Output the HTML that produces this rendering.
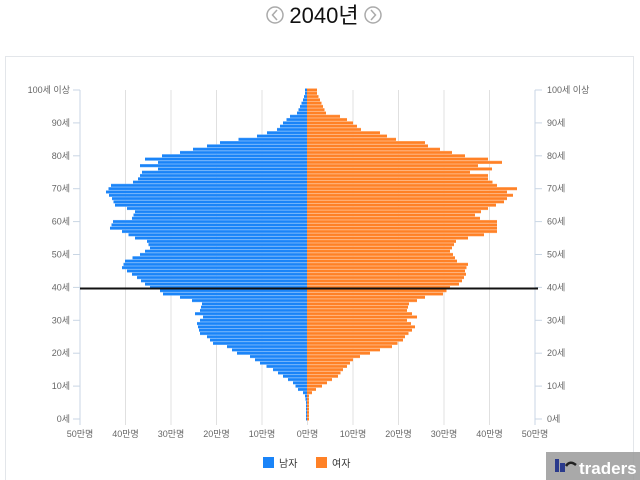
<!DOCTYPE html>
<html><head><meta charset="utf-8"><style>
html,body{margin:0;padding:0;background:#fff;width:640px;height:480px;overflow:hidden}
body{font-family:"Liberation Sans","Noto Sans CJK KR",sans-serif}
</style></head><body>
<svg id="s" width="640" height="480" xmlns="http://www.w3.org/2000/svg" font-family="'Liberation Sans','Noto Sans CJK KR',sans-serif">
<rect x="5.5" y="56.5" width="628" height="430" fill="none" stroke="#e3e6ea"/>
<circle cx="275" cy="15" r="8" fill="none" stroke="#aaa" stroke-width="1.5"/>
<path d="M277 10 L272.5 15 L277 20" fill="none" stroke="#aaa" stroke-width="1.5"/>
<circle cx="373" cy="15" r="8" fill="none" stroke="#aaa" stroke-width="1.5"/>
<path d="M371 10 L375.5 15 L371 20" fill="none" stroke="#aaa" stroke-width="1.5"/>
<text x="324" y="23" font-size="22" text-anchor="middle" fill="#111">2040년</text>
<g id="grid"></g>
<g id="bars"></g>
<line x1="80" y1="288.5" x2="538" y2="288.5" stroke="#111" stroke-width="2"/>
<g id="lab" font-size="9" fill="#666"></g>
<rect x="263" y="457" width="11" height="11" fill="#1a84f8"/>
<text x="279" y="467" font-size="10" fill="#333">남자</text>
<rect x="316" y="457" width="11" height="11" fill="#ff8126"/>
<text x="332" y="467" font-size="10" fill="#333">여자</text>
<rect x="546" y="452" width="94" height="28" fill="#9a9a9a" opacity="0.85"/>
<rect x="555" y="459" width="4" height="13" fill="#2a3a8c"/>
<rect x="560" y="463" width="5" height="9" fill="#2a3a8c"/>
<path d="M566 466 Q570 460 576 465" fill="none" stroke="#222" stroke-width="2.5"/>
<text x="579" y="474" font-size="17" font-weight="bold" fill="#fff">traders</text>
</svg>
<script>
var NS="http://www.w3.org/2000/svg";
function el(p,t,a,tx){var e=document.createElementNS(NS,t);for(var k in a)e.setAttribute(k,a[k]);if(tx)e.textContent=tx;p.appendChild(e);return e;}
var g=document.getElementById('grid'),b=document.getElementById('bars'),l=document.getElementById('lab');
var step=45.5;
for(var i=0;i<=10;i++){var x=80+i*step;
 if(i==0||i==10)el(g,'line',{x1:x,y1:90,x2:x,y2:425,stroke:'#c9d6e4'});
 else el(g,'line',{x1:x,y1:90,x2:x,y2:425,stroke:'#e0e0e0'});
 var v=i<=5?(5-i)*10:(i-5)*10;
 el(l,'text',{x:x,y:437,'text-anchor':'middle'},v+'만명');
}
for(var a=0;a<=10;a++){var y=419-a*32.9;
 var t=a==10?'100세 이상':(a*10)+'세';
 el(l,'text',{x:70,y:y+3,'text-anchor':'end'},t);
 el(l,'text',{x:547,y:y+3},t);
 el(g,'line',{x1:73,y1:y,x2:80,y2:y,stroke:'#c9d6e4'});
 el(g,'line',{x1:535,y1:y,x2:542,y2:y,stroke:'#c9d6e4'});
}
var M=[[0,306],[5,306],[7,305],[8,303],[9,298],[11,293],[13,283],[15,273],[17,260],[19,250],[20,237],[22,227],[23,213],[25,207],[26,200],[28,198],[29,197],[31,203],[32,195],[33,200],[35,202],[36,192],[37,180],[38,163],[39,160],[40,150],[41,145],[43,137],[45,127],[46,122],[48,125],[50,140],[52,150],[54,147],[55,135],[57,122],[58,110],[60,113],[61,132],[63,135],[64,127],[65,115],[67,112],[69,106],[71,111],[72,133],[73,138],[75,142],[76,158],[77,140],[78,158],[79,145],[80,162],[81,180],[82,193],[83,207],[84,220],[86,257],[88,277],[90,283],[92,290],[93,297],[95,300],[97,303],[99,305],[100,305]];
var F=[[0,309],[7,309],[8,312],[9,316],[10,322],[12,332],[13,338],[15,343],[16,347],[18,353],[19,360],[21,380],[22,392],[24,403],[25,405],[27,412],[28,415],[30,407],[31,417],[33,407],[35,409],[36,417],[37,425],[38,443],[40,450],[41,459],[42,462],[44,466],[45,465],[47,468],[48,457],[50,453],[51,450],[52,452],[54,456],[55,468],[56,484],[57,497],[59,497],[60,497],[61,480],[62,475],[63,481],[64,488],[66,504],[67,507],[68,513],[69,507],[70,517],[71,497],[73,488],[74,488],[75,470],[76,492],[77,478],[78,502],[79,488],[80,465],[81,452],[82,440],[83,428],[84,425],[85,396],[86,387],[87,380],[88,361],[90,353],[91,347],[92,340],[93,326],[95,323],[97,320],[99,317],[100,317]];
function ip(K,a){for(var i=0;i<K.length-1;i++){if(a>=K[i][0]&&a<=K[i+1][0]){var f=(a-K[i][0])/(K[i+1][0]-K[i][0]||1);return K[i][1]+f*(K[i+1][1]-K[i][1]);}}return K[K.length-1][1];}
var c=307;
for(var a=0;a<=100;a++){var yc=419-a*3.29,y=yc-1.65;
 var m=ip(M,a),f=ip(F,a);
 el(b,'rect',{x:m,y:y,width:c-m,height:3.29,fill:'#6fb2fb'});
 el(b,'rect',{x:m,y:y+0.5,width:c-m,height:2.3,fill:'#1a84f8'});
 el(b,'rect',{x:c,y:y,width:f-c,height:3.29,fill:'#ffb27a'});
 el(b,'rect',{x:c,y:y+0.5,width:f-c,height:2.3,fill:'#ff8126'});
}
</script>
</body></html>
